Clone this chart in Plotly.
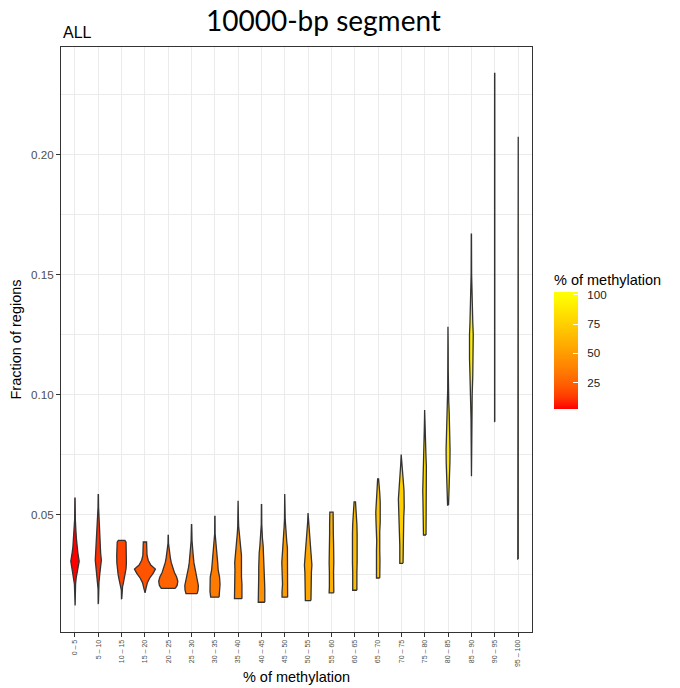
import plotly.graph_objects as go

# ---------------- data ----------------
categories = ["0 – 5", "5 – 10", "10 – 15", "15 – 20", "20 – 25", "25 – 30", "30 – 35",
              "35 – 40", "40 – 45", "45 – 50", "50 – 55", "55 – 60", "60 – 65", "65 – 70",
              "70 – 75", "75 – 80", "80 – 85", "85 – 90", "90 – 95", "95 – 100"]
methylation = [5, 10, 15, 20, 25, 30, 35, 40, 45, 50, 55, 60, 65, 70, 75, 80, 85, 90, 95, 100]

# violin outlines: fraction levels and relative density (half width)
violin_levels = [
    [0.0121, 0.017, 0.021, 0.0235, 0.027, 0.0306, 0.0335, 0.0365, 0.040, 0.044, 0.048, 0.0569],
    [0.0129, 0.019, 0.022, 0.025, 0.028, 0.031, 0.034, 0.038, 0.043, 0.048, 0.053, 0.0583],
    [0.0149, 0.0185, 0.020, 0.0215, 0.023, 0.025, 0.0275, 0.030, 0.033, 0.036, 0.0385, 0.0393],
    [0.0174, 0.0185, 0.0195, 0.0215, 0.0235, 0.0255, 0.0273, 0.029, 0.031, 0.033, 0.035, 0.0386],
    [0.0193, 0.0205, 0.0222, 0.024, 0.026, 0.028, 0.030, 0.032, 0.034, 0.036, 0.038, 0.0413],
    [0.0171, 0.0185, 0.0205, 0.023, 0.0257, 0.028, 0.030, 0.033, 0.036, 0.039, 0.0458],
    [0.0156, 0.018, 0.021, 0.024, 0.027, 0.030, 0.033, 0.036, 0.039, 0.042, 0.0493],
    [0.015, 0.018, 0.021, 0.024, 0.027, 0.030, 0.033, 0.036, 0.039, 0.042, 0.045, 0.048, 0.0558],
    [0.0135, 0.016, 0.019, 0.022, 0.025, 0.028, 0.031, 0.034, 0.037, 0.040, 0.043, 0.046, 0.0542],
    [0.0156, 0.018, 0.021, 0.024, 0.027, 0.030, 0.033, 0.036, 0.039, 0.042, 0.045, 0.048, 0.052, 0.0586],
    [0.0142, 0.017, 0.020, 0.023, 0.026, 0.029, 0.032, 0.035, 0.038, 0.041, 0.044, 0.047, 0.0507],
    [0.0174, 0.020, 0.023, 0.026, 0.030, 0.034, 0.038, 0.042, 0.046, 0.049, 0.051],
    [0.0185, 0.022, 0.026, 0.030, 0.034, 0.038, 0.042, 0.046, 0.050, 0.053, 0.0553],
    [0.0236, 0.027, 0.031, 0.035, 0.039, 0.043, 0.047, 0.051, 0.055, 0.059, 0.062, 0.0649],
    [0.0297, 0.033, 0.037, 0.041, 0.045, 0.049, 0.053, 0.0565, 0.060, 0.064, 0.068, 0.071, 0.075],
    [0.0415, 0.045, 0.050, 0.055, 0.060, 0.065, 0.070, 0.075, 0.080, 0.085, 0.090, 0.0936],
    [0.054, 0.058, 0.062, 0.067, 0.072, 0.077, 0.082, 0.087, 0.092, 0.097, 0.102, 0.110, 0.120, 0.1283],
    [0.066, 0.080, 0.090, 0.100, 0.108, 0.115, 0.120, 0.125, 0.130, 0.135, 0.140, 0.150, 0.1668],
    [0.0887, 0.110, 0.130, 0.145, 0.155, 0.170, 0.190, 0.210, 0.2338],
    [0.0315, 0.100, 0.2074],
]
violin_density = [
    [0.005, 0.01, 0.025, 0.05, 0.12, 0.18, 0.13, 0.09, 0.06, 0.035, 0.015, 0.005],
    [0.005, 0.01, 0.03, 0.06, 0.10, 0.13, 0.10, 0.075, 0.06, 0.035, 0.012, 0.005],
    [0.005, 0.012, 0.04, 0.075, 0.11, 0.15, 0.19, 0.205, 0.21, 0.21, 0.19, 0.14],
    [0.005, 0.02, 0.05, 0.10, 0.20, 0.35, 0.45, 0.25, 0.14, 0.09, 0.075, 0.07],
    [0.30, 0.38, 0.41, 0.36, 0.26, 0.18, 0.13, 0.09, 0.06, 0.03, 0.01, 0.005],
    [0.24, 0.28, 0.29, 0.24, 0.18, 0.13, 0.10, 0.07, 0.04, 0.02, 0.005],
    [0.18, 0.21, 0.22, 0.20, 0.14, 0.12, 0.10, 0.06, 0.03, 0.01, 0.005],
    [0.16, 0.17, 0.16, 0.14, 0.14, 0.15, 0.14, 0.11, 0.07, 0.04, 0.02, 0.01, 0.005],
    [0.14, 0.15, 0.14, 0.13, 0.12, 0.12, 0.12, 0.10, 0.07, 0.04, 0.02, 0.01, 0.005],
    [0.12, 0.12, 0.10, 0.10, 0.12, 0.13, 0.13, 0.11, 0.08, 0.05, 0.03, 0.015, 0.008, 0.005],
    [0.12, 0.12, 0.12, 0.13, 0.14, 0.16, 0.14, 0.11, 0.08, 0.06, 0.04, 0.02, 0.005],
    [0.10, 0.09, 0.08, 0.09, 0.10, 0.11, 0.09, 0.08, 0.08, 0.08, 0.07],
    [0.09, 0.08, 0.09, 0.10, 0.11, 0.11, 0.10, 0.09, 0.07, 0.05, 0.03],
    [0.07, 0.08, 0.08, 0.07, 0.06, 0.07, 0.09, 0.10, 0.09, 0.07, 0.04, 0.02],
    [0.07, 0.07, 0.07, 0.08, 0.09, 0.10, 0.12, 0.13, 0.11, 0.08, 0.05, 0.03, 0.01],
    [0.055, 0.06, 0.065, 0.075, 0.085, 0.085, 0.07, 0.05, 0.035, 0.02, 0.01, 0.005],
    [0.02, 0.04, 0.055, 0.07, 0.08, 0.085, 0.08, 0.07, 0.05, 0.03, 0.015, 0.008, 0.005, 0.004],
    [0.004, 0.008, 0.015, 0.035, 0.06, 0.08, 0.085, 0.08, 0.06, 0.04, 0.02, 0.01, 0.004],
    [0.004, 0.008, 0.015, 0.025, 0.025, 0.015, 0.008, 0.005, 0.004],
    [0.01, 0.012, 0.01],
]

colorbar_ticks = [25, 50, 75, 100]
y_ticks = [0.05, 0.10, 0.15, 0.20]

# ---------------- colour scale (ggplot-like Lab interpolation red -> yellow) ----------------
def _srgb_to_lab(rgb):
    def lin(c):
        c = c / 255.0
        return c / 12.92 if c <= 0.04045 else ((c + 0.055) / 1.055) ** 2.4
    r, g, b = (lin(c) for c in rgb)
    X = 0.4124 * r + 0.3576 * g + 0.1805 * b
    Y = 0.2126 * r + 0.7152 * g + 0.0722 * b
    Z = 0.0193 * r + 0.1192 * g + 0.9505 * b
    Xn, Yn, Zn = 0.95047, 1.0, 1.08883
    def f(t):
        return t ** (1 / 3) if t > 0.008856 else 7.787 * t + 16 / 116
    fx, fy, fz = f(X / Xn), f(Y / Yn), f(Z / Zn)
    return (116 * fy - 16, 500 * (fx - fy), 200 * (fy - fz))


def _lab_to_srgb(lab):
    L, a, b = lab
    fy = (L + 16) / 116
    fx = fy + a / 500
    fz = fy - b / 200
    def finv(t):
        return t ** 3 if t ** 3 > 0.008856 else (t - 16 / 116) / 7.787
    Xn, Yn, Zn = 0.95047, 1.0, 1.08883
    X, Y, Z = Xn * finv(fx), Yn * finv(fy), Zn * finv(fz)
    r = 3.2406 * X - 1.5372 * Y - 0.4986 * Z
    g = -0.9689 * X + 1.8758 * Y + 0.0415 * Z
    bb = 0.0557 * X - 0.2040 * Y + 1.0570 * Z
    def gam(c):
        c = max(0.0, min(1.0, c))
        return 12.92 * c if c <= 0.0031308 else 1.055 * c ** (1 / 2.4) - 0.055
    return tuple(int(round(gam(c) * 255)) for c in (r, g, bb))


LOW = _srgb_to_lab((255, 0, 0))
HIGH = _srgb_to_lab((255, 255, 0))
VMIN, VMAX = min(methylation), max(methylation)


def fill_colour(v):
    t = (v - VMIN) / (VMAX - VMIN)
    t = max(0.0, min(1.0, t))
    lab = tuple(LOW[i] + (HIGH[i] - LOW[i]) * t for i in range(3))
    r, g, b = _lab_to_srgb(lab)
    return f"rgb({r},{g},{b})"


# ---------------- figure ----------------
fig = go.Figure()

for i, (lev, dens) in enumerate(zip(violin_levels, violin_density)):
    xs = [i + d for d in dens] + [i - d for d in reversed(dens)] + [i + dens[0]]
    ys = list(lev) + list(reversed(lev)) + [lev[0]]
    fig.add_trace(go.Scatter(
        x=xs, y=ys, mode="lines", fill="toself",
        fillcolor=fill_colour(methylation[i]),
        line=dict(color="#333333", width=1.3),
        hoverinfo="skip", showlegend=False,
    ))

# colour bar (ggplot bar spans half a bin beyond the data limits)
half_bin = (VMAX - VMIN) / 19 / 2
cb_min, cb_max = VMIN - half_bin, VMAX + half_bin
n_stops = 21
colorscale = []
for k in range(n_stops):
    s = k / (n_stops - 1)
    colorscale.append([s, fill_colour(cb_min + s * (cb_max - cb_min))])

NBSP = "\u00a0"
fig.add_trace(go.Scatter(
    x=[None, None], y=[None, None], mode="markers",
    marker=dict(
        color=[cb_min, cb_max], cmin=cb_min, cmax=cb_max, colorscale=colorscale,
        showscale=True, size=1, opacity=0,
        colorbar=dict(
            title=dict(text="% of methylation", side="top",
                       font=dict(family="Liberation Sans, Arial, sans-serif", size=14.5, color="#000000")),
            tickvals=colorbar_ticks, ticktext=[NBSP * 2 + str(t) for t in colorbar_ticks],
            ticks="inside", ticklen=5, tickcolor="#FFFFFF", tickwidth=1,
            tickfont=dict(family="Liberation Sans, Arial, sans-serif", size=11.6, color="#1A1A1A"),
            thicknessmode="pixels", thickness=24,
            lenmode="pixels", len=138,
            x=1.0467, xanchor="left", xpad=0,
            y=(632 - 409) / 585, yanchor="bottom", ypad=0,
            outlinewidth=0,
        ),
    ),
    hoverinfo="skip", showlegend=False,
))

grid_col = "#EBEBEB"
fig.update_layout(
    width=680, height=688,
    margin=dict(l=61, r=148, t=47, b=56),
    paper_bgcolor="white", plot_bgcolor="white",
    font=dict(family="Liberation Sans, Arial, sans-serif", color="#000000"),
    showlegend=False,
    xaxis=dict(
        range=[-0.6, len(categories) - 1 + 0.6],
        tickmode="array", tickvals=list(range(len(categories))), ticktext=categories,
        tickangle=-90, tickfont=dict(size=7, color="#4D4D4D"),
        showgrid=True, gridcolor=grid_col, gridwidth=1,
        zeroline=False, automargin=False,
        showline=True, linecolor="#333333", linewidth=1, mirror=True,
        ticks="outside", ticklen=4, tickcolor="#333333", tickwidth=1,
        title=dict(text="% of methylation", font=dict(size=14.5), standoff=5),
    ),
    yaxis=dict(
        range=[0.0011, 0.2448],
        tickmode="array", tickvals=y_ticks, ticktext=[f"{v:.2f}" for v in y_ticks],
        tickfont=dict(size=11.6, color="#4D4D4D"),
        showgrid=True, gridcolor=grid_col, gridwidth=1,
        minor=dict(tickmode="array", tickvals=[0.025, 0.075, 0.125, 0.175, 0.225],
                   showgrid=True, gridcolor=grid_col, gridwidth=0.5, ticks=""),
        zeroline=False, automargin=False,
        showline=True, linecolor="#333333", linewidth=1, mirror=True,
        ticks="outside", ticklen=4, tickcolor="#333333", tickwidth=1,
        title=dict(text="Fraction of regions", font=dict(size=14.5), standoff=6),
    ),
    annotations=[
        dict(text="10000-bp segment", xref="paper", yref="paper", x=0.558, y=1.046,
             xanchor="center", yanchor="middle", showarrow=False,
             font=dict(family="Lato, Open Sans, sans-serif", size=28, color="#000000")),
        dict(text="ALL", xref="paper", yref="paper", x=0.0, y=1.024,
             xanchor="left", yanchor="middle", showarrow=False,
             font=dict(family="Liberation Sans, Arial, sans-serif", size=16, color="#000000")),
    ],
)

fig.write_html("out.html")
